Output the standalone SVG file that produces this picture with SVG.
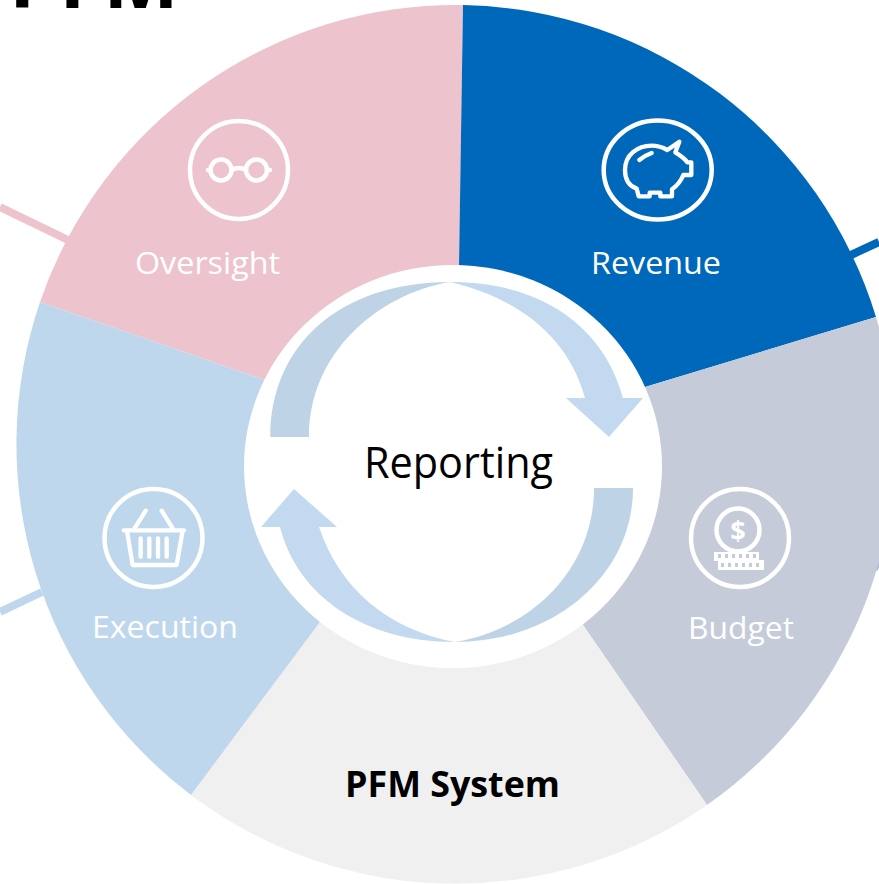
<svg xmlns="http://www.w3.org/2000/svg" width="879" height="884" viewBox="0 0 879 884">
<style>
.lbl{font-family:"Open Sans","Liberation Sans",sans-serif;font-size:31px;fill:#fff;text-anchor:middle}
.ic{fill:none;stroke:#fff;stroke-width:4.500;stroke-linecap:round;stroke-linejoin:round}
.z{fill:none;stroke:#fff;stroke-width:13;stroke-linecap:round;stroke-linejoin:round}
.a1{fill:#BFD3E6}.a2{fill:#C2D9F0}
</style>
<rect width="879" height="884" fill="#fff"/>
<text id="title" x="9" y="8" font-family="'Open Sans','Liberation Sans',sans-serif" font-weight="700" font-size="80" fill="#000">PFM</text>
<g id="connectors" fill="none" stroke-width="8">
<path d="M0 207L68 240" stroke="#EDC3CD"/>
<path d="M851 255L879 242" stroke="#0068BA"/>
<path d="M0 612L42 592" stroke="#BFD7EC"/>
<path d="M879 562L875 570" stroke="#A9BBD0" stroke-width="5"/>
</g>
<g id="node-oversight">
<path d="M463 5A440 440 0 0 0 40 302L265 380L459 265Z" fill="#EDC3CD"/>
</g>
<g id="node-revenue">
<path d="M463 5A440 440 0 0 1 876 317L645 387L459 265Z" fill="#0068BA"/>
</g>
<g id="node-budget">
<path d="M876 317A440 440 0 0 1 707 805L583 625L645 387Z" fill="#C5CBD9"/>
</g>
<g id="node-pfm">
<path d="M707 805A440 440 0 0 1 191 795L320 622L583 625Z" fill="#F0F0F0"/>
</g>
<g id="node-execution">
<path d="M191 795A440 440 0 0 1 40 302L265 380L320 622Z" fill="#BFD7EC"/>
</g>
<ellipse cx="453" cy="466.500" rx="209" ry="201.500" fill="#fff"/>

<g id="node-reporting">
<path class="a1" d="M270.300 437C270.300 345 340 282 450 282C375 295 309 355 309 437Z"/>
<path class="a2" d="M450 282C540 282 603 325 623 398L643 398L609 437L566 398L585 398C568 335 515 297 450 282Z"/>
<path class="a1" d="M594 488L633 488C633 575 555 642 455 642C530 630 594 570 594 488Z"/>
<path class="a2" d="M455 642C365 642 298 597 280 527L261 527L294 489L337 527L319 527C340 590 390 630 455 642Z"/>
<text x="458.500" y="478" font-family="'Open Sans','Liberation Sans',sans-serif" font-size="44" fill="#000" text-anchor="middle" textLength="189" lengthAdjust="spacingAndGlyphs">Reporting</text>
</g>

<g id="oversight-content">
<circle cx="239" cy="170" r="49" class="ic"/>
<circle cx="221" cy="170" r="10.500" class="ic"/>
<circle cx="256.500" cy="170" r="10.500" class="ic"/>
<path class="ic" d="M231.500 170Q239 166 246 170M208 170L210.500 170M267 170L270 170"/>
<text class="lbl" x="207.500" y="274" textLength="145" lengthAdjust="spacingAndGlyphs">Oversight</text>
</g>

<g id="revenue-content">
<ellipse cx="657.700" cy="170" rx="54" ry="49.500" class="ic"/>
<g transform="translate(580 100) scale(.3333)">
<path class="z" d="M135 210C135 165 172 137 215 137C232 137 248 142 262 150L298 125L286 157C304 168 316 178 322 187H334V225H310C302 245 290 258 276 268V289H241V278H209V289H176L170 266C148 258 135 238 135 210Z"/>
<path class="z" d="M178 180Q195 166 215 159"/>
</g>
<text class="lbl" x="656" y="274" textLength="130" lengthAdjust="spacingAndGlyphs">Revenue</text>
</g>

<g id="budget-content">
<circle cx="740" cy="538" r="49" class="ic"/>
<circle cx="738" cy="530" r="21.500" class="ic"/>
<text x="738" y="540" font-family="'Open Sans','Liberation Sans',sans-serif" font-weight="700" font-size="27" fill="#fff" text-anchor="middle">$</text>
<path fill="#fff" d="M714 552H759V560H764V570H718V561H714Z"/>
<g fill="#C5CBD9">
<rect x="718" y="554" width="3" height="4"/><rect x="725" y="554" width="3" height="4"/><rect x="732" y="554" width="3" height="4"/><rect x="739" y="554" width="3" height="4"/><rect x="746" y="554" width="3" height="4"/><rect x="753" y="554" width="3" height="4"/>
<rect x="721" y="563" width="3" height="4"/><rect x="728" y="563" width="3" height="4"/><rect x="735" y="563" width="3" height="4"/><rect x="742" y="563" width="3" height="4"/><rect x="749" y="563" width="3" height="4"/><rect x="756" y="563" width="3" height="4"/>
</g>
<text class="lbl" x="741" y="639" textLength="106" lengthAdjust="spacingAndGlyphs">Budget</text>
</g>

<g id="execution-content">
<circle cx="153.500" cy="538" r="49" class="ic"/>
<g transform="translate(0 470) scale(.3333)">
<path class="z" d="M371 181H552M381 183L398 285H530L548 183M422 205V260M448 205V260M474 205V260M500 205V260M402 178L437 122M520 178L485 122"/>
</g>
<text class="lbl" x="165" y="638" textLength="146" lengthAdjust="spacingAndGlyphs">Execution</text>
</g>

<g id="pfm-content">
<text x="452.500" y="797" font-family="'Open Sans','Liberation Sans',sans-serif" font-weight="700" font-size="35" fill="#000" text-anchor="middle" textLength="215" lengthAdjust="spacingAndGlyphs">PFM System</text>
</g>
</svg>
